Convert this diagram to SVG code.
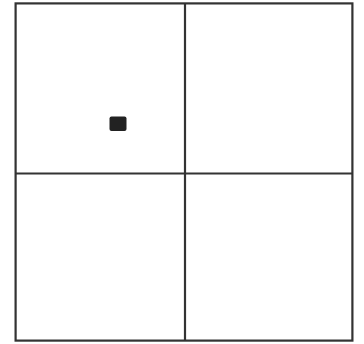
<svg xmlns="http://www.w3.org/2000/svg" width="364" height="344" viewBox="0 0 364 344">
<style>
.ln{stroke:#333;stroke-width:2.2;fill:none}
</style>
<rect width="364" height="344" fill="#fff"/>
<g id="frame">
<rect class="ln" x="15.6" y="3.4" width="336.8" height="337.2"/>
</g>
<g id="dividers">
<line class="ln" x1="185" y1="3.4" x2="185" y2="340.6"/>
<line class="ln" x1="15.6" y1="173.5" x2="352.4" y2="173.5"/>
</g>
<g id="dot">
<rect x="109.5" y="116.5" width="17" height="14.5" rx="2" fill="#222"/>
</g>
</svg>
